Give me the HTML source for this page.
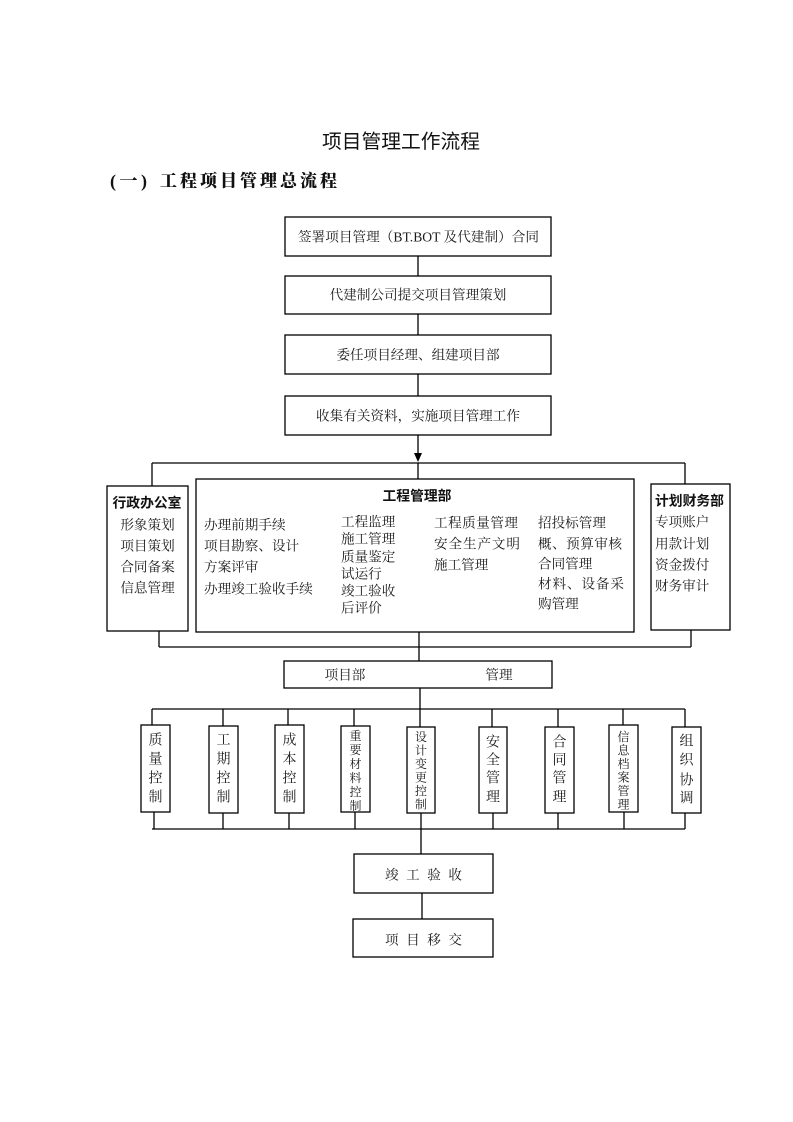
<!DOCTYPE html>
<html>
<head>
<meta charset="utf-8">
<style>
html,body{margin:0;padding:0;background:#fff;}
svg{display:block;}
.s{font-family:"Liberation Serif","Noto Serif CJK SC",serif;font-size:13.6px;fill:#1a1a1a;}
.h{font-family:"Liberation Sans","Noto Sans CJK SC",sans-serif;font-size:13.8px;font-weight:bold;fill:#111;}
.v4{font-family:"Liberation Serif","Noto Serif CJK SC",serif;font-size:14px;fill:#1a1a1a;}
.v6{font-family:"Liberation Serif","Noto Serif CJK SC",serif;font-size:12px;fill:#1a1a1a;}
</style>
</head>
<body>
<svg width="793" height="1122" viewBox="0 0 793 1122" xmlns="http://www.w3.org/2000/svg">
<g fill="none" stroke="#000" stroke-width="1.3">
  <rect x="285" y="217" width="266" height="39"/>
  <rect x="285" y="276" width="266" height="38"/>
  <rect x="285" y="335" width="266" height="39"/>
  <rect x="285" y="396" width="266" height="39"/>
  <line x1="418" y1="256" x2="418" y2="276"/>
  <line x1="418" y1="314" x2="418" y2="335"/>
  <line x1="418" y1="374" x2="418" y2="396"/>
  <line x1="418" y1="435" x2="418" y2="455"/>
  <line x1="152" y1="463" x2="685" y2="463"/>
  <line x1="152" y1="463" x2="152" y2="486"/>
  <line x1="418" y1="463" x2="418" y2="479"/>
  <line x1="685" y1="463" x2="685" y2="484"/>
  <rect x="107" y="486" width="81" height="145"/>
  <rect x="196" y="479" width="438" height="153"/>
  <rect x="651" y="484" width="79" height="146"/>
  <line x1="159" y1="631" x2="159" y2="647"/>
  <line x1="419" y1="632" x2="419" y2="661"/>
  <line x1="691" y1="630" x2="691" y2="647"/>
  <line x1="159" y1="647" x2="691" y2="647"/>
  <rect x="284" y="661" width="268" height="27"/>
  <line x1="420" y1="688" x2="420" y2="709"/>
  <line x1="152" y1="709" x2="685" y2="709"/>
  <rect x="141" y="725" width="29" height="87"/>
  <rect x="209" y="726" width="29" height="87"/>
  <rect x="275" y="725" width="29" height="88"/>
  <rect x="341" y="726" width="29" height="86"/>
  <rect x="407" y="727" width="28" height="86"/>
  <rect x="479" y="727" width="28" height="86"/>
  <rect x="545" y="727" width="29" height="86"/>
  <rect x="609" y="725" width="29" height="87"/>
  <rect x="672" y="727" width="29" height="86"/>
  <line x1="152" y1="709" x2="152" y2="725"/>
  <line x1="223" y1="709" x2="223" y2="726"/>
  <line x1="288" y1="709" x2="288" y2="725"/>
  <line x1="354" y1="709" x2="354" y2="726"/>
  <line x1="420" y1="709" x2="420" y2="727"/>
  <line x1="492" y1="709" x2="492" y2="727"/>
  <line x1="558" y1="709" x2="558" y2="727"/>
  <line x1="623" y1="709" x2="623" y2="725"/>
  <line x1="685" y1="709" x2="685" y2="727"/>
  <line x1="154" y1="812" x2="154" y2="829"/>
  <line x1="223" y1="813" x2="223" y2="829"/>
  <line x1="289" y1="813" x2="289" y2="829"/>
  <line x1="355" y1="812" x2="355" y2="829"/>
  <line x1="421" y1="813" x2="421" y2="829"/>
  <line x1="493" y1="813" x2="493" y2="829"/>
  <line x1="558" y1="813" x2="558" y2="829"/>
  <line x1="624" y1="812" x2="624" y2="829"/>
  <line x1="685" y1="813" x2="685" y2="829"/>
  <line x1="152" y1="829" x2="685" y2="829"/>
  <line x1="421" y1="829" x2="421" y2="854"/>
  <rect x="354" y="854" width="139" height="39"/>
  <line x1="422" y1="893" x2="422" y2="919"/>
  <rect x="353" y="919" width="140" height="38"/>
</g>
<polygon points="414,453 422,453 418,462" fill="#000"/>

<text x="401" y="142" text-anchor="middle" dominant-baseline="central" font-family="Liberation Sans, Noto Sans CJK SC, sans-serif" font-size="19.6" fill="#111" textLength="158" lengthAdjust="spacingAndGlyphs">项目管理工作流程</text>
<text x="110" y="181" dominant-baseline="central" font-family="Liberation Serif, Noto Serif CJK SC, serif" font-size="18" font-weight="900" fill="#111" textLength="37" lengthAdjust="spacing">(一)</text>
<text x="160" y="181" dominant-baseline="central" font-family="Liberation Serif, Noto Serif CJK SC, serif" font-size="17" font-weight="900" fill="#111" textLength="177" lengthAdjust="spacing">工程项目管理总流程</text>

<text class="s" x="298" y="237" dominant-baseline="central" textLength="241" lengthAdjust="spacingAndGlyphs">签署项目管理（BT.BOT 及代建制）合同</text>
<text class="s" x="418" y="295" text-anchor="middle" dominant-baseline="central">代建制公司提交项目管理策划</text>
<text class="s" x="418" y="355" text-anchor="middle" dominant-baseline="central">委任项目经理、组建项目部</text>
<text class="s" x="418" y="416" text-anchor="middle" dominant-baseline="central">收集有关资料，实施项目管理工作</text>

<text class="h" x="147" y="503" text-anchor="middle" dominant-baseline="central">行政办公室</text>
<text class="s" x="147.5" y="525" text-anchor="middle" dominant-baseline="central">形象策划</text>
<text class="s" x="147.5" y="546" text-anchor="middle" dominant-baseline="central">项目策划</text>
<text class="s" x="147.5" y="567" text-anchor="middle" dominant-baseline="central">合同备案</text>
<text class="s" x="147.5" y="588" text-anchor="middle" dominant-baseline="central">信息管理</text>

<text class="h" x="417" y="496" text-anchor="middle" dominant-baseline="central">工程管理部</text>
<text class="s" x="204" y="525" dominant-baseline="central">办理前期手续</text>
<text class="s" x="204" y="546" dominant-baseline="central">项目勘察、设计</text>
<text class="s" x="204" y="567" dominant-baseline="central">方案评审</text>
<text class="s" x="204" y="589" dominant-baseline="central">办理竣工验收手续</text>

<text class="s" x="341" y="522" dominant-baseline="central">工程监理</text>
<text class="s" x="341" y="539" dominant-baseline="central">施工管理</text>
<text class="s" x="341" y="557" dominant-baseline="central">质量鉴定</text>
<text class="s" x="341" y="574" dominant-baseline="central">试运行</text>
<text class="s" x="341" y="591" dominant-baseline="central">竣工验收</text>
<text class="s" x="341" y="608" dominant-baseline="central">后评价</text>

<text class="s" x="434" y="523" dominant-baseline="central" textLength="84" lengthAdjust="spacing">工程质量管理</text>
<text class="s" x="434" y="544" dominant-baseline="central" textLength="86" lengthAdjust="spacing">安全生产文明</text>
<text class="s" x="434" y="565" dominant-baseline="central">施工管理</text>

<text class="s" x="538" y="523" dominant-baseline="central">招投标管理</text>
<text class="s" x="538" y="544" dominant-baseline="central" textLength="84" lengthAdjust="spacing">概、预算审核</text>
<text class="s" x="538" y="564" dominant-baseline="central">合同管理</text>
<text class="s" x="538" y="584" dominant-baseline="central" textLength="86" lengthAdjust="spacing">材料、设备采</text>
<text class="s" x="538" y="604" dominant-baseline="central">购管理</text>

<text class="h" x="655" y="501" dominant-baseline="central">计划财务部</text>
<text class="s" x="655" y="522" dominant-baseline="central">专项账户</text>
<text class="s" x="655" y="544" dominant-baseline="central">用款计划</text>
<text class="s" x="655" y="565" dominant-baseline="central">资金拨付</text>
<text class="s" x="655" y="586" dominant-baseline="central">财务审计</text>

<text class="s" x="345" y="675" text-anchor="middle" dominant-baseline="central">项目部</text>
<text class="s" x="499" y="675" text-anchor="middle" dominant-baseline="central">管理</text>

<g class="v4" text-anchor="middle">
  <text x="155.5" y="741" dominant-baseline="central">质</text>
  <text x="155.5" y="760" dominant-baseline="central">量</text>
  <text x="155.5" y="779" dominant-baseline="central">控</text>
  <text x="155.5" y="798" dominant-baseline="central">制</text>

  <text x="223.5" y="741" dominant-baseline="central">工</text>
  <text x="223.5" y="760" dominant-baseline="central">期</text>
  <text x="223.5" y="779" dominant-baseline="central">控</text>
  <text x="223.5" y="798" dominant-baseline="central">制</text>

  <text x="289.5" y="741" dominant-baseline="central">成</text>
  <text x="289.5" y="760" dominant-baseline="central">本</text>
  <text x="289.5" y="779" dominant-baseline="central">控</text>
  <text x="289.5" y="798" dominant-baseline="central">制</text>

  <text x="493" y="743" dominant-baseline="central">安</text>
  <text x="493" y="761" dominant-baseline="central">全</text>
  <text x="493" y="779" dominant-baseline="central">管</text>
  <text x="493" y="798" dominant-baseline="central">理</text>

  <text x="559.5" y="743" dominant-baseline="central">合</text>
  <text x="559.5" y="761" dominant-baseline="central">同</text>
  <text x="559.5" y="779" dominant-baseline="central">管</text>
  <text x="559.5" y="798" dominant-baseline="central">理</text>

  <text x="686.5" y="742" dominant-baseline="central">组</text>
  <text x="686.5" y="761" dominant-baseline="central">织</text>
  <text x="686.5" y="781" dominant-baseline="central">协</text>
  <text x="686.5" y="799" dominant-baseline="central">调</text>
</g>
<g class="v6" text-anchor="middle">
  <text x="355.5" y="736" dominant-baseline="central">重</text>
  <text x="355.5" y="750" dominant-baseline="central">要</text>
  <text x="355.5" y="764" dominant-baseline="central">材</text>
  <text x="355.5" y="778" dominant-baseline="central">料</text>
  <text x="355.5" y="792" dominant-baseline="central">控</text>
  <text x="355.5" y="806" dominant-baseline="central">制</text>

  <text x="421" y="737" dominant-baseline="central">设</text>
  <text x="421" y="750.5" dominant-baseline="central">计</text>
  <text x="421" y="764" dominant-baseline="central">变</text>
  <text x="421" y="777.5" dominant-baseline="central">更</text>
  <text x="421" y="791" dominant-baseline="central">控</text>
  <text x="421" y="804.5" dominant-baseline="central">制</text>

  <text x="623.5" y="737" dominant-baseline="central">信</text>
  <text x="623.5" y="750.5" dominant-baseline="central">息</text>
  <text x="623.5" y="764" dominant-baseline="central">档</text>
  <text x="623.5" y="777.5" dominant-baseline="central">案</text>
  <text x="623.5" y="791" dominant-baseline="central">管</text>
  <text x="623.5" y="804.5" dominant-baseline="central">理</text>
</g>

<text class="s" x="385" y="875" dominant-baseline="central" textLength="77" lengthAdjust="spacing">竣工验收</text>
<text class="s" x="385" y="940" dominant-baseline="central" textLength="77" lengthAdjust="spacing">项目移交</text>
</svg>
</body>
</html>
